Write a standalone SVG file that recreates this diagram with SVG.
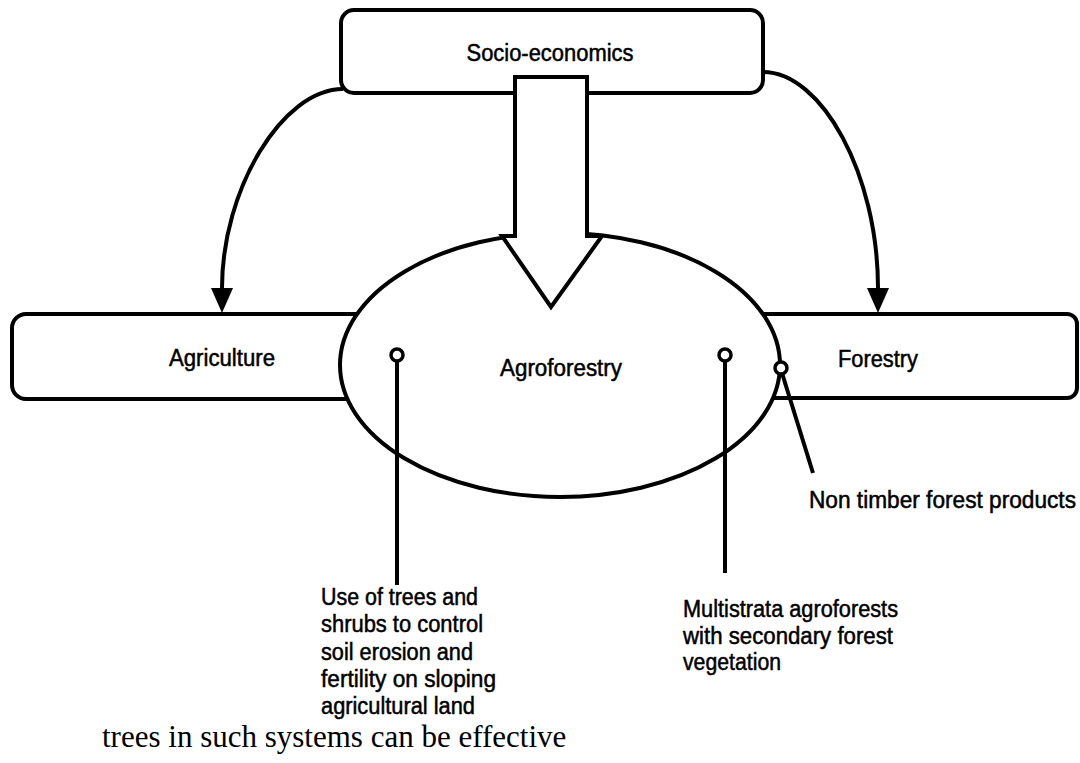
<svg xmlns="http://www.w3.org/2000/svg" width="1080" height="763" viewBox="0 0 1080 763">
  <defs>
    <style>
      .shape { fill: #fff; stroke: #000; stroke-width: 4; }
      .line { fill: none; stroke: #000; stroke-width: 4; }
      .pin { fill: #fff; stroke: #000; stroke-width: 3.5; }
      .lbl { font-family: "Liberation Sans", Arial, sans-serif; font-size: 23px; fill: #000; stroke: #000; stroke-width: 0.5; }
      .mid { text-anchor: middle; }
      .body { font-family: "Liberation Serif", "Times New Roman", serif; font-size: 31px; fill: #000; }
    </style>
    <marker id="arrow" markerUnits="userSpaceOnUse" markerWidth="26" markerHeight="24" refX="0" refY="11" orient="auto">
      <path d="M0,0 L25,11 L0,22 z" fill="#000"/>
    </marker>
  </defs>
  <rect width="1080" height="763" fill="#fff"/>

  <g id="agriculture">
    <rect class="shape" x="12" y="314" width="440" height="85" rx="14"/>
    <text class="lbl mid" x="222" y="366" textLength="106" lengthAdjust="spacingAndGlyphs">Agriculture</text>
  </g>

  <g id="forestry">
    <rect class="shape" x="680" y="314" width="397" height="84" rx="10"/>
    <text class="lbl mid" x="878" y="367" textLength="80" lengthAdjust="spacingAndGlyphs">Forestry</text>
  </g>

  <g id="agroforestry">
    <ellipse class="shape" cx="560" cy="365" rx="220" ry="132"/>
    <text class="lbl mid" x="561" y="376" textLength="122" lengthAdjust="spacingAndGlyphs">Agroforestry</text>
  </g>

  <g id="socio-economics">
    <rect class="shape" x="341" y="10" width="422" height="83" rx="13"/>
    <text class="lbl mid" x="550" y="61" textLength="167" lengthAdjust="spacingAndGlyphs">Socio-economics</text>
  </g>

  <g id="connectors">
    <polygon class="shape" stroke-linejoin="miter" points="515,77 587,77 587,236 602,236 551,307 502,236 515,236"/>
    <path class="line" d="M343,89 C282,89 222,190 222,288" marker-end="url(#arrow)"/>
    <path class="line" d="M763,72 C822,72 878,175 878,288" marker-end="url(#arrow)"/>
    <line class="line" x1="397" y1="361" x2="397" y2="585"/>
    <line class="line" x1="725" y1="361" x2="725" y2="573"/>
    <line class="line" x1="782" y1="373" x2="813" y2="473"/>
    <circle class="pin" cx="397" cy="355" r="6"/>
    <circle class="pin" cx="725" cy="355" r="6"/>
    <circle class="pin" cx="781" cy="368" r="6"/>
  </g>

  <g id="annotations">
    <text class="lbl" x="809" y="508" textLength="267" lengthAdjust="spacingAndGlyphs">Non timber forest products</text>
    <text class="lbl" x="321" y="605" textLength="157" lengthAdjust="spacingAndGlyphs">Use of trees and</text>
    <text class="lbl" x="321" y="632" textLength="162" lengthAdjust="spacingAndGlyphs">shrubs to control</text>
    <text class="lbl" x="321" y="660" textLength="152" lengthAdjust="spacingAndGlyphs">soil erosion and</text>
    <text class="lbl" x="321" y="687" textLength="175" lengthAdjust="spacingAndGlyphs">fertility on sloping</text>
    <text class="lbl" x="321" y="714" textLength="154" lengthAdjust="spacingAndGlyphs">agricultural land</text>
    <text class="lbl" x="683" y="617" textLength="215" lengthAdjust="spacingAndGlyphs">Multistrata agroforests</text>
    <text class="lbl" x="683" y="644" textLength="210" lengthAdjust="spacingAndGlyphs">with secondary forest</text>
    <text class="lbl" x="683" y="670" textLength="98" lengthAdjust="spacingAndGlyphs">vegetation</text>
  </g>

  <text class="body" x="102" y="747">trees in such systems can be effective</text>
</svg>
